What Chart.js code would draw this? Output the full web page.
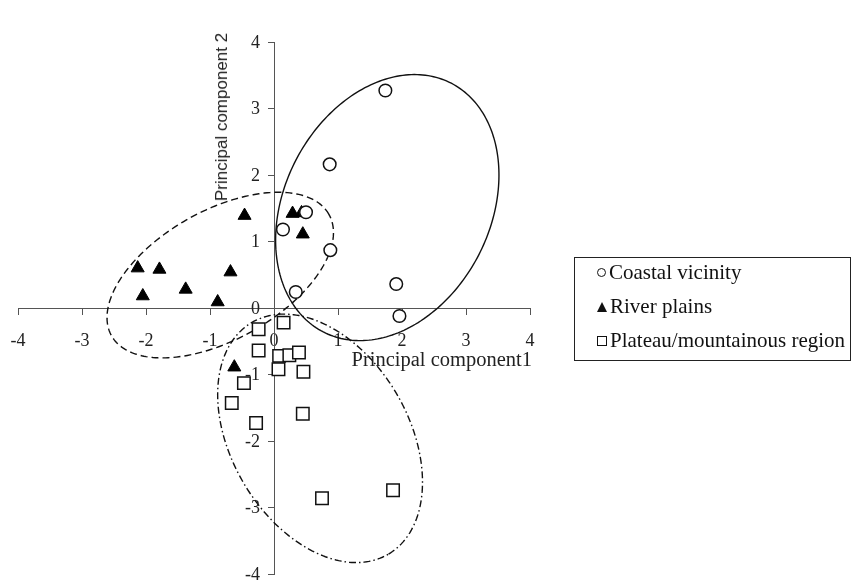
<!DOCTYPE html>
<html>
<head>
<meta charset="utf-8">
<script src="https://cdn.jsdelivr.net/npm/chart.js@4.4.1/dist/chart.umd.min.js"></script>
<style>
  body { margin: 0; background: #fff; }
  #wrap { position: relative; width: 855px; height: 581px; }
  #pca { position: absolute; left: 0; top: 0; }
  .ytitle {
    position: absolute; left: 222px; top: 117px;
    transform: translate(-50%, -50%) rotate(-90deg);
    font: 17px "Liberation Sans", Arial, sans-serif; color: #222; white-space: nowrap;
  }
  .xtitle {
    position: absolute; right: 323px; top: 348px; line-height: 24px;
    font: 20.5px "Liberation Serif", "Times New Roman", serif; color: #222; white-space: nowrap;
  }
  #legend {
    position: absolute; left: 574px; top: 257px; width: 277px; height: 104px;
    border: 1.5px solid #222; box-sizing: border-box;
    font: 21px "Liberation Serif", "Times New Roman", serif; color: #111;
  }
  #legend div { position: absolute; left: 22px; height: 24px; line-height: 24px; white-space: nowrap; }
  #legend i { display: inline-block; vertical-align: middle; margin: -3px 3px 0 0; box-sizing: border-box; }
  .sym-circle { width: 9px; height: 9px; border: 1.3px solid #111; border-radius: 50%; }
  .sym-tri { width: 0; height: 0; border-left: 5.5px solid transparent; border-right: 5.5px solid transparent; border-bottom: 10px solid #111; }
  .sym-square { width: 10px; height: 10px; border: 1.3px solid #111; }
</style>
</head>
<body>
<div id="wrap">
  <canvas id="pca" width="855" height="581"></canvas>
  <div class="ytitle">Principal component 2</div>
  <div class="xtitle">Principal component1</div>
  <div id="legend">
    <div style="top:2px"><i class="sym-circle"></i>Coastal vicinity</div>
    <div style="top:36px"><i class="sym-tri"></i>River plains</div>
    <div style="top:70px"><i class="sym-square"></i>Plateau/mountainous region</div>
  </div>
</div>
<script>
const seriesNames = ['Coastal vicinity', 'River plains', 'Plateau/mountainous region'];

const coastalX = [1.74, 0.87, 0.50, 0.14, 0.88, 0.34, 1.91, 1.96];
const coastalY = [3.27, 2.16, 1.44, 1.18, 0.87, 0.24, 0.36, -0.12];

const riverX = [-2.13, -1.79, -2.05, -1.38, -0.88, -0.68, -0.46, 0.29, 0.43, 0.45, -0.62];
const riverY = [0.60, 0.58, 0.18, 0.28, 0.09, 0.54, 1.39, 1.42, 1.43, 1.11, -0.89];

const plateauX = [-0.24, 0.15, -0.24, 0.08, 0.24, 0.39, 0.07, 0.46, -0.47, -0.66, 0.45, -0.28, 0.75, 1.86];
const plateauY = [-0.32, -0.22, -0.64, -0.72, -0.71, -0.67, -0.92, -0.96, -1.13, -1.43, -1.59, -1.73, -2.86, -2.74];

const axisTicks = [-4, -3, -2, -1, 0, 1, 2, 3, 4];

// group ellipses: centre and two conjugate half-axes, in data units
const ellipseCenters = [[1.77, 1.51], [-0.84, 0.495], [0.72, -1.96]];
const ellipseAxisA = [[1.00, 1.87], [1.70, 0.91], [1.07, -1.74]];
const ellipseAxisB = [[-1.43, 0.71], [-0.49, 0.85], [1.19, 0.68]];

const toPoints = (xs, ys) => xs.map((x, i) => ({ x: x, y: ys[i] }));

const tickFont = { family: '"Liberation Serif", "Times New Roman", serif', size: 18 };

const ellipsePlugin = {
  id: 'groupEllipses',
  beforeDatasetsDraw(chart) {
    const { ctx, scales: { x, y } } = chart;
    const dashes = [[], [7, 4], [7, 3, 1.5, 3]];
    ctx.save();
    ctx.strokeStyle = '#111';
    ctx.lineWidth = 1.4;
    ellipseCenters.forEach((c, k) => {
      const a = ellipseAxisA[k], b = ellipseAxisB[k];
      ctx.setLineDash(dashes[k]);
      ctx.beginPath();
      for (let i = 0; i <= 240; i++) {
        const t = i / 240 * Math.PI * 2;
        const px = x.getPixelForValue(c[0] + a[0] * Math.cos(t) + b[0] * Math.sin(t));
        const py = y.getPixelForValue(c[1] + a[1] * Math.cos(t) + b[1] * Math.sin(t));
        if (i === 0) ctx.moveTo(px, py); else ctx.lineTo(px, py);
      }
      ctx.closePath();
      ctx.stroke();
    });
    ctx.restore();
  }
};

// Chart.js puts labels of a value-positioned y axis right on the line, so draw them here
const yLabelPlugin = {
  id: 'yAxisLabels',
  afterDraw(chart) {
    const { ctx, scales: { x, y } } = chart;
    const axisX = x.getPixelForValue(0);
    ctx.save();
    ctx.font = `${tickFont.size}px ${tickFont.family}`;
    ctx.fillStyle = '#222';
    ctx.textAlign = 'right';
    ctx.textBaseline = 'middle';
    axisTicks.forEach(v => ctx.fillText(String(v), axisX - 14, y.getPixelForValue(v) + 1));
    ctx.restore();
  }
};

const axisOptions = (pos, showLabels, padding) => ({
  type: 'linear',
  min: -4,
  max: 4,
  position: pos,
  afterBuildTicks: scale => { scale.ticks = axisTicks.map(v => ({ value: v })); },
  afterFit: scale => { scale.paddingTop = 0; scale.paddingBottom = 0; scale.paddingLeft = 0; scale.paddingRight = 0; },
  ticks: { display: showLabels, font: tickFont, color: '#222', padding: padding, maxRotation: 0, autoSkip: false },
  grid: { drawOnChartArea: false, drawTicks: true, tickLength: 6, color: '#555', lineWidth: 1 },
  border: { display: true, color: '#555', width: 1 }
});

new Chart(document.getElementById('pca'), {
  type: 'scatter',
  data: {
    datasets: [
      {
        label: seriesNames[0],
        data: toPoints(coastalX, coastalY),
        pointStyle: 'circle',
        pointRadius: 6.3,
        backgroundColor: '#fff',
        borderColor: '#111',
        borderWidth: 1.5
      },
      {
        label: seriesNames[1],
        data: toPoints(riverX, riverY),
        pointStyle: 'triangle',
        pointRadius: 7.5,
        backgroundColor: '#000',
        borderColor: '#000',
        borderWidth: 1
      },
      {
        label: seriesNames[2],
        data: toPoints(plateauX, plateauY),
        pointStyle: 'rect',
        pointRadius: 8.8,
        backgroundColor: '#fff',
        borderColor: '#111',
        borderWidth: 1.5
      }
    ]
  },
  options: {
    responsive: false,
    animation: false,
    layout: { autoPadding: false, padding: { left: 18, right: 325, top: 42, bottom: 7 } },
    plugins: { legend: { display: false }, tooltip: { enabled: false } },
    scales: {
      x: axisOptions({ y: 0 }, true, 16),
      y: axisOptions({ x: 0 }, false, 0)
    }
  },
  plugins: [ellipsePlugin, yLabelPlugin]
});
</script>
</body>
</html>
